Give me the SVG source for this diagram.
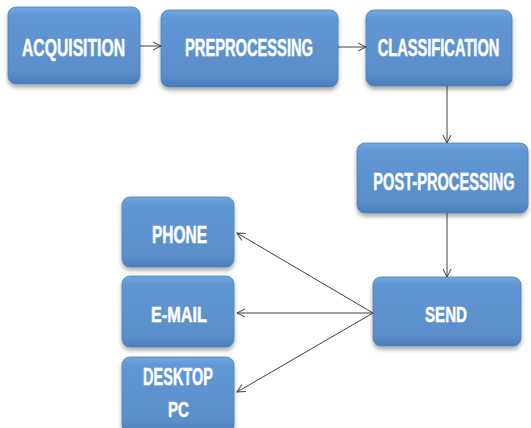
<svg xmlns="http://www.w3.org/2000/svg" width="531" height="428" viewBox="0 0 531 428">
<defs>
<linearGradient id="g" x1="0" y1="0" x2="0" y2="1">
<stop offset="0" stop-color="#72a6de"/>
<stop offset="0.12" stop-color="#6097d4"/>
<stop offset="0.85" stop-color="#5a8ecb"/>
<stop offset="1" stop-color="#4a7cb9"/>
</linearGradient>
<filter id="sh" x="-10%" y="-10%" width="120%" height="130%">
<feGaussianBlur in="SourceAlpha" stdDeviation="2"/>
<feOffset dx="0" dy="3" result="b"/>
<feComponentTransfer><feFuncA type="linear" slope="0.35"/></feComponentTransfer>
<feMerge><feMergeNode/><feMergeNode in="SourceGraphic"/></feMerge>
</filter>
<marker id="ah" markerWidth="10" markerHeight="10" refX="9" refY="5" orient="auto" markerUnits="userSpaceOnUse">
<path d="M1,1 L9,5 L1,9" fill="none" stroke="#404040" stroke-width="1"/>
</marker>
</defs>
<style>
.box{fill:url(#g);stroke:#4f81bd;stroke-width:0.8;filter:url(#sh)}
.lbl{font-family:"Liberation Sans",Arial,sans-serif;font-weight:bold;font-size:23px;fill:#ffffff;stroke:#ffffff;stroke-width:0.5;text-anchor:middle}
.c{stroke:#404040;stroke-width:1;fill:none;marker-end:url(#ah)}
</style>
<rect width="531" height="428" fill="#ffffff"/>
<g id="acquisition"><rect class="box" x="8" y="7" width="132" height="77" rx="8"/><text class="lbl" transform="translate(73.5,56) scale(0.683,1)">ACQUISITION</text></g>
<g id="preprocessing"><rect class="box" x="161" y="10" width="177" height="77" rx="8"/><text class="lbl" transform="translate(249,56) scale(0.638,1)">PREPROCESSING</text></g>
<g id="classification"><rect class="box" x="366" y="10" width="146" height="76" rx="8"/><text class="lbl" transform="translate(438.5,56) scale(0.637,1)">CLASSIFICATION</text></g>
<g id="post-processing"><rect class="box" x="357" y="143" width="171" height="70" rx="8"/><text class="lbl" transform="translate(444,190) scale(0.636,1)">POST-PROCESSING</text></g>
<g id="send"><rect class="box" x="373" y="277" width="148" height="69" rx="8"/><text class="lbl" transform="translate(446,322) scale(0.657,1)">SEND</text></g>
<g id="phone"><rect class="box" x="122" y="197" width="112" height="70" rx="8"/><text class="lbl" transform="translate(179.5,243) scale(0.672,1)">PHONE</text></g>
<g id="email"><rect class="box" x="122" y="276" width="112" height="71" rx="8"/><text class="lbl" transform="translate(179,322) scale(0.707,1)">E-MAIL</text></g>
<g id="desktop-pc"><rect class="box" x="122" y="357" width="112" height="76" rx="8"/><text class="lbl" transform="translate(178,385) scale(0.63,1)">DESKTOP</text><text class="lbl" transform="translate(178.5,417) scale(0.657,1)">PC</text></g>
<g id="connectors">
<line class="c" x1="140" y1="46" x2="161" y2="46"/>
<line class="c" x1="338" y1="47" x2="366" y2="47"/>
<line class="c" x1="447" y1="86" x2="447" y2="143"/>
<line class="c" x1="447" y1="213" x2="447" y2="277"/>
<line class="c" x1="373" y1="313" x2="237" y2="233"/>
<line class="c" x1="373" y1="313" x2="237" y2="313"/>
<line class="c" x1="373" y1="313" x2="237" y2="392"/>
</g>
</svg>
